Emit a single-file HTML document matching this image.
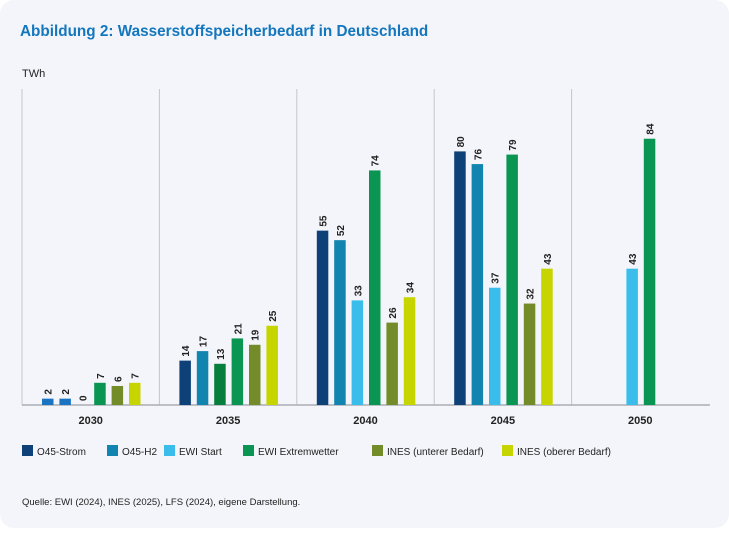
<!DOCTYPE html>
<html><head><meta charset="utf-8"><style>
body{margin:0;background:#fff;font-family:"Liberation Sans","DejaVu Sans",sans-serif;}
#card{position:absolute;left:0;top:0;width:729px;height:528px;background:#f4f5fa;border-radius:14px;}
</style></head><body>
<div id="card">
<svg id="chart" width="729" height="528"></svg>
</div>
<script>
const years=["2030","2035","2040","2045","2050"];
const seriesNames=["O45-Strom","O45-H2","EWI Start","EWI Extremwetter","INES (unterer Bedarf)","INES (oberer Bedarf)"];
const seriesColors=["#0d4177","#1184b0","#3bbdec","#0a9652","#748b2a","#c6d400"];
const sStrom=[2,14,55,80,null];
const sH2=[2,17,52,76,null];
const sEwiStart=[0,13,33,37,43];
const sEwiExt=[7,21,74,79,84];
const sInesU=[6,19,26,32,null];
const sInesO=[7,25,34,43,null];
const series=[sStrom,sH2,sEwiStart,sEwiExt,sInesU,sInesO];
// per-bar colour overrides seen in reference (series-year)
const overrides={"0-0":"#1a74c2","1-0":"#1a74c2","2-1":"#077f3c"};
const NS="http://www.w3.org/2000/svg";
const svg=document.getElementById('chart');
function el(t,a,txt){const e=document.createElementNS(NS,t);for(const k in a)e.setAttribute(k,a[k]);if(txt!=null)e.textContent=txt;svg.appendChild(e);return e;}
const x0=22,gw=137.4,base=405,ppu=3.17;
function y(v){return base-v*ppu;}
function gx(i){return x0+i*gw;}
let t=el('text',{x:20,y:36,fill:'#1477bd','font-size':15.3,'font-weight':'bold'},'Abbildung 2: Wasserstoffspeicherbedarf in Deutschland');

t=el('text',{x:22,y:77,fill:'#222','font-size':11},'TWh');

for(let i=1;i<years.length;i++){
  const l=el('line',{x1:gx(i),x2:gx(i),y1:89,y2:base,stroke:'#c3c6cc','stroke-width':1});
  
}
const l0=el('line',{x1:x0,x2:x0,y1:89,y2:base,stroke:'#c3c6cc'});
const ax=el('line',{x1:x0,x2:710,y1:base,y2:base,stroke:'#a9adb3','stroke-width':1.5});

years.forEach((yr,i)=>{
  const lb=el('text',{x:gx(i)+gw/2,y:424,'text-anchor':'middle','font-size':11,'font-weight':'bold',fill:'#222'},yr);
  
  series.forEach((s,j)=>{
    const v=s[i];if(v==null)return;
    const bx=gx(i)+20+j*17.4;
    const col=overrides[j+'-'+i]||seriesColors[j];
    const r=el('rect',{x:bx,y:y(v),width:11.5,height:v*ppu,fill:col});
    
    const cx=bx+5.75,cy=y(v)-4;
    const vt=el('text',{x:cx,y:cy+4,transform:`rotate(-90 ${cx} ${cy})`,'font-size':10,'font-weight':'bold',fill:'#222'},String(v));
    
  });
});
const legX=[22,107,164,243,372,502];
seriesNames.forEach((n,j)=>{
  const g=legX[j];
  const r=el('rect',{x:g,y:445,width:11,height:11,fill:seriesColors[j]});
  
  const tt=el('text',{x:g+15,y:455,'font-size':10,fill:'#222'},n);
  
});
t=el('text',{x:22,y:505,'font-size':9.5,fill:'#222'},'Quelle: EWI (2024), INES (2025), LFS (2024), eigene Darstellung.');

</script>
</body></html>
